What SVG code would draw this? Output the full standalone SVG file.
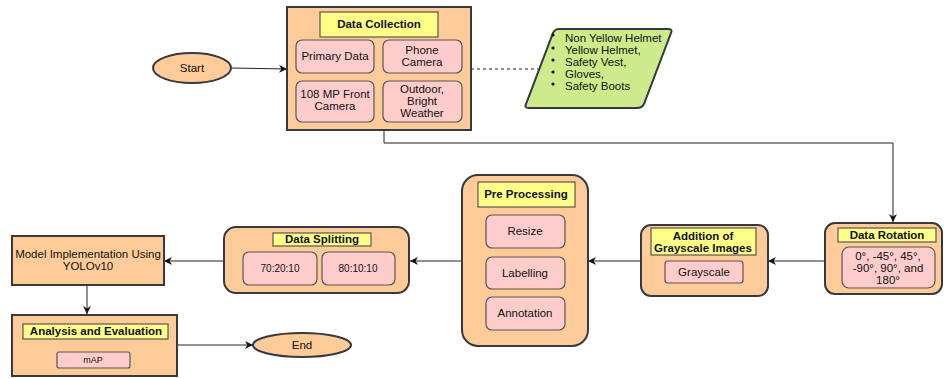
<svg xmlns="http://www.w3.org/2000/svg" width="944" height="379" viewBox="0 0 944 379">
<defs>
<style>
text{font-family:"Liberation Sans",Arial,sans-serif;font-size:11.5px;fill:#111;text-anchor:middle}
.b{font-weight:bold}
.org{fill:#ffcc99;stroke:#36393d;stroke-width:2}
.pk{fill:#ffcccc;stroke:#555;stroke-width:1.2}
.yl{fill:#ffff88;stroke:#555;stroke-width:1.2}
.gr{fill:#cdeb8b;stroke:#36393d;stroke-width:2}
.c{fill:none;stroke:#222;stroke-width:1}
.l{text-anchor:start}
</style>
<marker id="ar" viewBox="0 0 10 10" refX="10" refY="5" markerWidth="8" markerHeight="8" orient="auto" markerUnits="userSpaceOnUse"><path d="M0,0 L10,5 L0,10 L3,5 Z" fill="#111"/></marker>
</defs>
<rect width="944" height="379" fill="#fff"/>
<g id="connectors">
<path class="c" d="M231,68 L287,69" marker-end="url(#ar)"/>
<path class="c" d="M471,69 L538,69" stroke-dasharray="3,3"/>
<path class="c" d="M384,130 V143 H893 V222" marker-end="url(#ar)"/>
<path class="c" d="M825,261 H768" marker-end="url(#ar)"/>
<path class="c" d="M641,261 H588" marker-end="url(#ar)"/>
<path class="c" d="M462,261 H410" marker-end="url(#ar)"/>
<path class="c" d="M224,261 H164" marker-end="url(#ar)"/>
<path class="c" d="M87,285 V314" marker-end="url(#ar)"/>
<path class="c" d="M177,345 H253" marker-end="url(#ar)"/>
</g>
<g id="start">
<ellipse class="org" cx="192" cy="68" rx="39" ry="15"/>
<text x="192" y="72">Start</text>
</g>
<g id="data-collection">
<rect class="org" x="287" y="7" width="184" height="123"/>
<rect class="yl" x="320" y="12" width="118" height="25"/>
<text class="b" x="379" y="28">Data Collection</text>
<rect class="pk" x="296" y="40" width="78" height="33" rx="6"/>
<text x="335" y="60">Primary Data</text>
<rect class="pk" x="383" y="40" width="79" height="33" rx="6"/>
<text x="422" y="54">Phone</text>
<text x="422" y="66">Camera</text>
<rect class="pk" x="296" y="81" width="78" height="41" rx="6"/>
<text x="335" y="98">108 MP Front</text>
<text x="335" y="110">Camera</text>
<rect class="pk" x="383" y="81" width="79" height="41" rx="6"/>
<text x="422" y="93">Outdoor,</text>
<text x="422" y="105">Bright</text>
<text x="422" y="117">Weather</text>
</g>
<g id="classes">
<path class="gr" d="M559,29 H668 Q673,29 671,33 L644,104 Q642,108 637,108 H529 Q524,108 526,104 L553,33 Q555,29 559,29 Z"/>
<g fill="#111"><circle cx="553" cy="35" r="1.6"/><circle cx="553" cy="48" r="1.6"/><circle cx="553" cy="60" r="1.6"/><circle cx="553" cy="72" r="1.6"/><circle cx="553" cy="84" r="1.6"/></g>
<text class="l" x="565" y="42">Non Yellow Helmet</text>
<text class="l" x="565" y="54">Yellow Helmet,</text>
<text class="l" x="565" y="66">Safety Vest,</text>
<text class="l" x="565" y="78">Gloves,</text>
<text class="l" x="565" y="90">Safety Boots</text>
</g>
<g id="data-rotation">
<rect class="org" x="825" y="223" width="117" height="71" rx="10"/>
<rect class="yl" x="838" y="228" width="98" height="14"/>
<text class="b" x="887" y="239">Data Rotation</text>
<rect class="pk" x="842" y="247" width="93" height="41" rx="7"/>
<text x="888" y="260">0°, -45°, 45°,</text>
<text x="888" y="272">-90°, 90°, and</text>
<text x="888" y="284">180°</text>
</g>
<g id="grayscale">
<rect class="org" x="641" y="225" width="127" height="71" rx="10"/>
<rect class="yl" x="651" y="228" width="105" height="27"/>
<text class="b" x="703" y="240">Addition of</text>
<text class="b" x="703" y="252">Grayscale Images</text>
<rect class="pk" x="665" y="261" width="78" height="22" rx="3"/>
<text x="704" y="276">Grayscale</text>
</g>
<g id="pre-processing">
<rect class="org" x="462" y="175" width="126" height="171" rx="16"/>
<rect class="yl" x="478" y="182" width="97" height="25"/>
<text class="b" x="526" y="198">Pre Processing</text>
<rect class="pk" x="486" y="215" width="79" height="33" rx="6"/>
<text x="525" y="235">Resize</text>
<rect class="pk" x="486" y="257" width="79" height="32" rx="6"/>
<text x="525" y="277">Labelling</text>
<rect class="pk" x="486" y="297" width="79" height="33" rx="6"/>
<text x="525" y="317">Annotation</text>
</g>
<g id="data-splitting">
<rect class="org" x="224" y="227" width="185" height="66" rx="12"/>
<rect class="yl" x="273" y="233" width="98" height="13"/>
<text class="b" x="322" y="243">Data Splitting</text>
<rect class="pk" x="243" y="252" width="74" height="33" rx="6"/>
<text x="280" y="272" style="font-size:10px">70:20:10</text>
<rect class="pk" x="322" y="252" width="73" height="33" rx="6"/>
<text x="358" y="272" style="font-size:10px">80:10:10</text>
</g>
<g id="model">
<rect class="org" x="12" y="236" width="152" height="49"/>
<text x="88" y="258">Model Implementation Using</text>
<text x="88" y="270">YOLOv10</text>
</g>
<g id="analysis">
<rect class="org" x="12" y="315" width="165" height="61"/>
<rect class="yl" x="23" y="324" width="145" height="15"/>
<text class="b" x="96" y="335">Analysis and Evaluation</text>
<rect class="pk" x="57" y="352" width="73" height="16" rx="2"/>
<text x="93" y="363" style="font-size:9px">mAP</text>
</g>
<g id="end">
<ellipse class="org" cx="302" cy="345" rx="49" ry="12"/>
<text x="302" y="349">End</text>
</g>
</svg>
